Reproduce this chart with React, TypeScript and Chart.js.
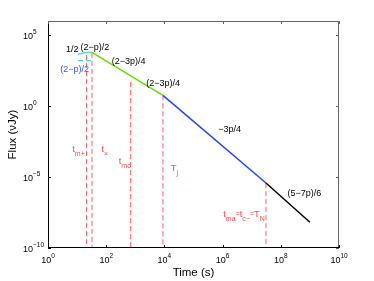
import React, { useEffect, useRef } from 'react';
import { Chart, registerables } from 'chart.js';

Chart.register(...registerables);

const FONT = '"Liberation Sans", Arial, Helvetica, sans-serif';

// ---- light-curve segments (time in s, flux in uJy) ----
const cyanTimes = [10.7, 18.2, 32.4];
const cyanFlux = [4470, 5750, 6170];
const cyanDashTimes = [10.7, 32.4];
const cyanDashFlux = [1585, 1585];
const greenTimes = [32.4, 8900];
const greenFlux = [6170, 5.75];
const blueTimes = [8900, 3.1e7];
const blueFlux = [5.75, 3.8e-6];
const blackTimes = [3.1e7, 1e9];
const blackFlux = [3.8e-6, 6.6e-9];

// ---- characteristic times (vertical dashed lines) ----
const breakTimes = [21, 32.4, 690, 8900, 3.1e7];
const breakTopFlux = [3980, 5600, 50, 5.75, 3.8e-6];
const fluxFloor = 1e-10;

// ---- axes ----
const xMin = 1;
const xMax = 1e10;
const yMin = 1e-10;
const yMax = 1e6;
const xTickExps = [0, 2, 4, 6, 8, 10];
const yTickExps = [-10, -5, 0, 5];

// ---- slope labels ----
const slopeLabels = ['1/2', '(2−p)/2', '(2−p)/2', '(2−3p)/4', '(2−3p)/4', '−3p/4', '(5−7p)/6'];
const slopeTimes = [6.8, 40.7, 8.2, 590, 9100, 1.74e6, 6.5e8];
const slopeFlux = [9100, 13200, 390, 1510, 40, 0.0224, 6.8e-7];
const slopeColors = ['#000000', '#000000', '#3a55ff', '#000000', '#000000', '#000000', '#000000'];

// ---- time labels: [text, kind] kind 0 = main, 1 = subscript, 2 = small inline ----
const timeLabels: [string, number][][] = [
  [['t', 0], ['m+', 1]],
  [['t', 0], ['×', 1]],
  [['t', 0], ['mc', 1]],
  [['T', 0], ['j', 1]],
  [['t', 0], ['ma', 1], ['=', 2], ['t', 0], ['c−', 1], ['=', 2], ['T', 0], ['N', 1]],
];
const timeLabelTimes = [6.8, 68, 269, 1.66e4, 1.05e6];
const timeLabelFlux = [9.1e-4, 9.1e-4, 1.29e-4, 4.0e-5, 2.3e-8];

const RED = 'rgb(255,75,75)';

function pts(xs: number[], ys: number[]) {
  return xs.map((x, i) => ({ x, y: ys[i] }));
}

function drawSegments(
  ctx: CanvasRenderingContext2D,
  segs: [string, number][],
  x: number,
  y: number,
  mainSize: number,
  smallSize: number,
  subOffset: number
) {
  let cx = x;
  for (const [text, kind] of segs) {
    const size = kind === 0 ? mainSize : smallSize;
    ctx.font = `${size}px ${FONT}`;
    const dy = kind === 1 ? subOffset : 0;
    ctx.fillText(text, cx, y + dy);
    cx += ctx.measureText(text).width;
  }
}

function segWidth(ctx: CanvasRenderingContext2D, segs: [string, number][], mainSize: number, smallSize: number) {
  let w = 0;
  for (const [text, kind] of segs) {
    ctx.font = `${kind === 0 ? mainSize : smallSize}px ${FONT}`;
    w += ctx.measureText(text).width;
  }
  return w;
}

const overlay = {
  id: 'overlay',
  afterDraw(chart: any) {
    const ctx: CanvasRenderingContext2D = chart.ctx;
    const a = chart.chartArea;
    const xs = chart.scales.x;
    const ys = chart.scales.y;
    ctx.save();

    // frame
    ctx.lineWidth = 1;
    ctx.strokeStyle = '#666666';
    ctx.beginPath();
    ctx.moveTo(a.left, a.top + 0.5);
    ctx.lineTo(a.right - 0.5, a.top + 0.5);
    ctx.lineTo(a.right - 0.5, a.bottom);
    ctx.stroke();
    ctx.strokeStyle = '#000000';
    ctx.beginPath();
    ctx.moveTo(a.left + 0.5, a.top);
    ctx.lineTo(a.left + 0.5, a.bottom - 0.5);
    ctx.lineTo(a.right, a.bottom - 0.5);
    ctx.stroke();

    // ticks (inward)
    const tl = 3;
    for (const e of xTickExps) {
      const px = Math.round(xs.getPixelForValue(Math.pow(10, e))) + 0.5;
      ctx.strokeStyle = '#000';
      ctx.beginPath();
      ctx.moveTo(px, a.bottom);
      ctx.lineTo(px, a.bottom - tl);
      ctx.stroke();
      ctx.strokeStyle = '#666';
      ctx.beginPath();
      ctx.moveTo(px, a.top);
      ctx.lineTo(px, a.top + tl);
      ctx.stroke();
    }
    for (const e of yTickExps) {
      const py = Math.round(ys.getPixelForValue(Math.pow(10, e))) + 0.5;
      ctx.strokeStyle = '#000';
      ctx.beginPath();
      ctx.moveTo(a.left, py);
      ctx.lineTo(a.left + tl, py);
      ctx.stroke();
      ctx.strokeStyle = '#666';
      ctx.beginPath();
      ctx.moveTo(a.right, py);
      ctx.lineTo(a.right - tl, py);
      ctx.stroke();
    }

    // tick labels
    ctx.fillStyle = '#000';
    ctx.textBaseline = 'middle';
    ctx.textAlign = 'left';
    for (const e of xTickExps) {
      const px = xs.getPixelForValue(Math.pow(10, e));
      const segs: [string, number][] = [['10', 0], [String(e), 1]];
      const w = segWidth(ctx, segs, 9, 6.5);
      drawSegments(ctx, segs, px - w / 2, a.bottom + 13, 9, 6.5, -5);
    }
    for (const e of yTickExps) {
      const py = ys.getPixelForValue(Math.pow(10, e));
      const segs: [string, number][] = [['10', 0], [e < 0 ? '−' + String(-e) : String(e), 1]];
      drawSegments(ctx, segs, 23, py + 1.5, 9, 6.5, -4);
    }

    // axis titles
    ctx.font = `11.5px ${FONT}`;
    ctx.textAlign = 'center';
    ctx.fillText('Time (s)', (a.left + a.right) / 2, 273);
    ctx.save();
    ctx.translate(13, (a.top + a.bottom) / 2);
    ctx.rotate(-Math.PI / 2);
    ctx.fillText('Flux (νJy)', 0, 0);
    ctx.restore();

    // slope labels
    ctx.font = `9px ${FONT}`;
    ctx.textAlign = 'center';
    slopeLabels.forEach((s, i) => {
      ctx.fillStyle = slopeColors[i];
      ctx.fillText(s, xs.getPixelForValue(slopeTimes[i]), ys.getPixelForValue(slopeFlux[i]));
    });

    // time labels
    ctx.textAlign = 'left';
    ctx.fillStyle = RED;
    timeLabels.forEach((segs, i) => {
      drawSegments(
        ctx,
        segs,
        xs.getPixelForValue(timeLabelTimes[i]),
        ys.getPixelForValue(timeLabelFlux[i]),
        9.5,
        7,
        5
      );
    });

    ctx.restore();
  },
};

export default function App() {
  const ref = useRef<HTMLCanvasElement | null>(null);

  useEffect(() => {
    document.body.style.margin = '0';
    if (!ref.current) return;

    const lineDs = (data: any[], color: string, width: number, dash: number[] = []) => ({
      data,
      borderColor: color,
      borderWidth: width,
      borderDash: dash,
      showLine: true,
      pointRadius: 0,
      fill: false,
      tension: 0,
    });

    const verticals = breakTimes.map((t, i) =>
      lineDs(pts([t, t], [breakTopFlux[i], fluxFloor]), 'rgba(255,70,70,0.85)', 1, [5, 3])
    );

    const chart = new Chart(ref.current, {
      type: 'scatter',
      data: {
        datasets: [
          lineDs(pts(cyanTimes, cyanFlux), '#4fe0d4', 1.5),
          lineDs(pts(cyanDashTimes, cyanDashFlux), '#4fe0d4', 1.2, [5, 3]),
          lineDs(pts(greenTimes, greenFlux), '#66dd00', 1.5),
          lineDs(pts(blueTimes, blueFlux), '#2244ff', 1.5),
          lineDs(pts(blackTimes, blackFlux), '#000000', 1.5),
          ...verticals,
        ] as any,
      },
      options: {
        responsive: false,
        animation: false,
        devicePixelRatio: 1,
        layout: { padding: { left: 48, right: 35, top: 21, bottom: 33 } },
        plugins: { legend: { display: false }, tooltip: { enabled: false } },
        scales: {
          x: { type: 'logarithmic', min: xMin, max: xMax, display: false },
          y: { type: 'logarithmic', min: yMin, max: yMax, display: false },
        },
      } as any,
      plugins: [overlay],
    });

    return () => chart.destroy();
  }, []);

  return (
    <div style={{ width: 374, height: 281, background: '#fff' }}>
      <canvas ref={ref} width={374} height={281} style={{ display: 'block' }} />
    </div>
  );
}
